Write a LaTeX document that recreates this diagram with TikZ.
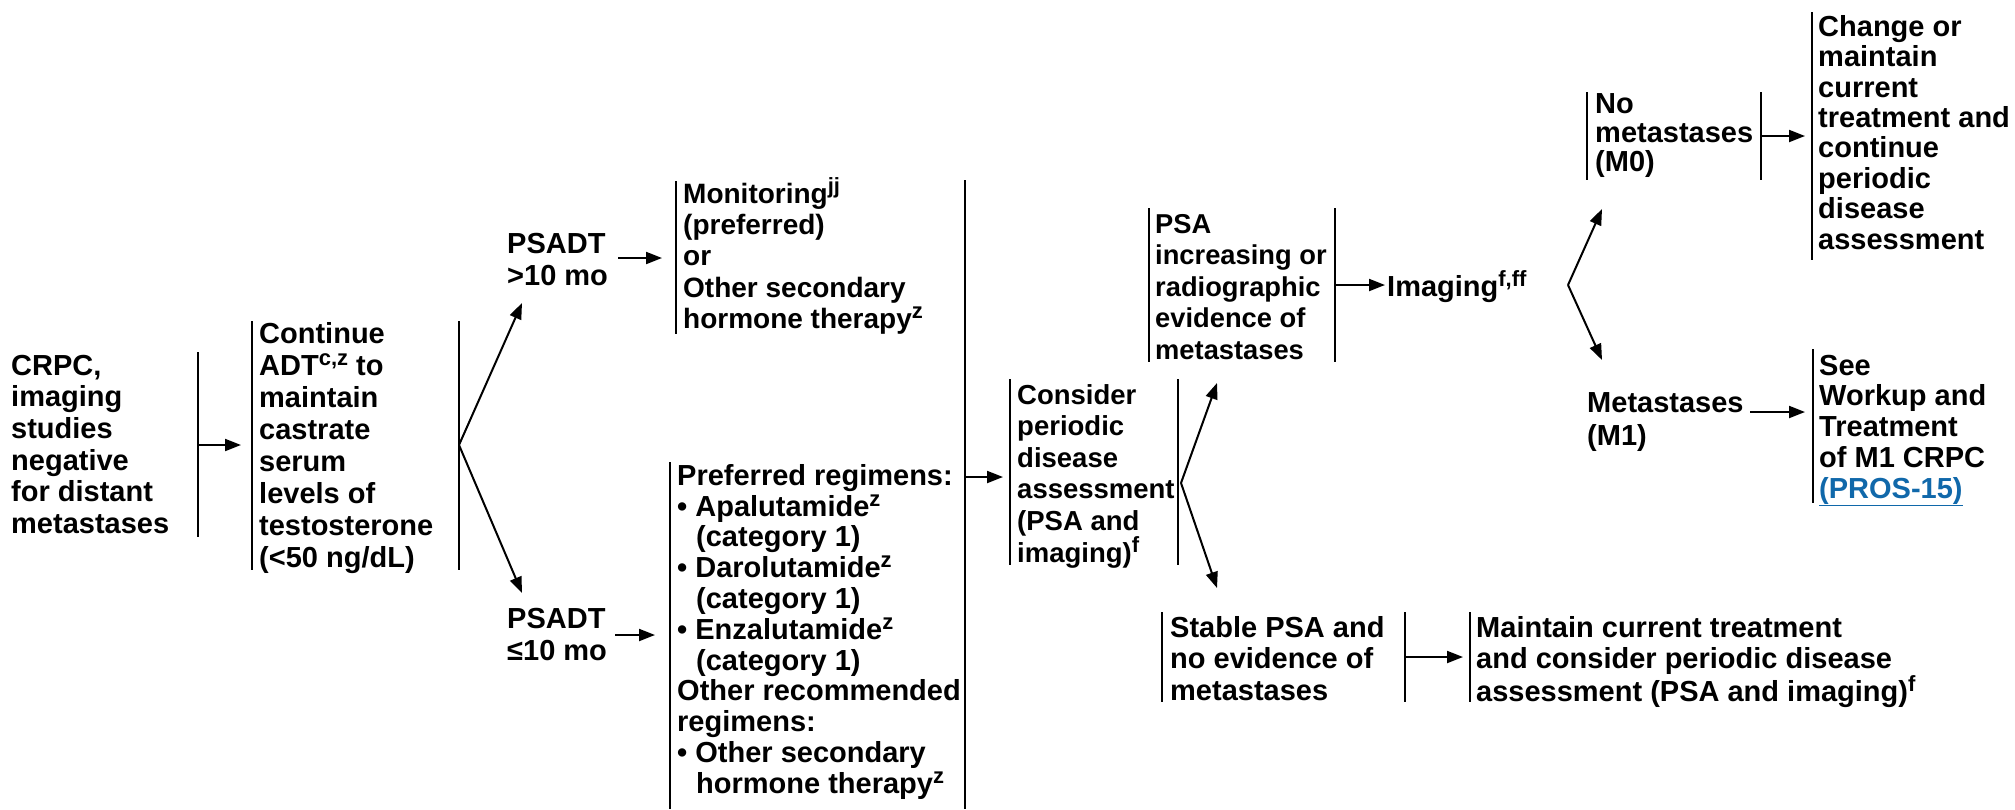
\documentclass[tikz,border=0pt]{standalone}
\usepackage{fontspec}
\setmainfont{Liberation Sans}
\usetikzlibrary{arrows.meta}
\definecolor{linkblue}{RGB}{16,104,170}
\newcommand{\hstr}{\rule{0pt}{26pt}}
\newcommand{\sps}[1]{\raisebox{10pt}{\fontsize{22}{22}\selectfont #1}}
\newcommand{\ind}{\hspace*{19pt}}
\begin{document}
\begin{tikzpicture}[x=1pt,y=-1pt,
  txt/.style={anchor=north west, inner sep=0pt, align=left, font=\fontsize{29}{31.5}\selectfont\bfseries},
  bar/.style={line width=2.6pt},
  arr/.style={line width=2pt, -{Triangle[length=16pt,width=12pt]}},
  fork/.style={line width=2pt, -{Triangle[length=16pt,width=12pt]}}]
\useasboundingbox (0,0) rectangle (2015,809);

% ---------- text nodes ----------
\node[txt, font=\fontsize{29}{31.6}\selectfont\bfseries] (crpc) at (11,349)
  {\hstr CRPC,\\ imaging\\ studies\\ negative\\ for distant\\ metastases};
\node[txt, font=\fontsize{29}{32}\selectfont\bfseries] (cont) at (259,317)
  {\hstr Continue\\ ADT\sps{c,z} to\\ maintain\\ castrate\\ serum\\ levels of\\ testosterone\\ (<50 ng/dL)};
\node[txt, font=\fontsize{29}{32}\selectfont\bfseries] (ps1) at (507,227) {\hstr PSADT\\ >10 mo};
\node[txt, font=\fontsize{29}{32}\selectfont\bfseries] (ps2) at (507,602) {\hstr PSADT\\ ≤10 mo};
\node[txt, font=\fontsize{28}{31.3}\selectfont\bfseries] (mon) at (683,177)
  {\hstr Monitoring\sps{jj}\\ (preferred)\\ or\\ Other secondary\\ hormone therapy\sps{z}};
\node[txt, font=\fontsize{29}{30.8}\selectfont\bfseries] (pref) at (677,459)
  {\hstr Preferred regimens:\\ • Apalutamide\sps{z}\\ \ind(category 1)\\ • Darolutamide\sps{z}\\ \ind(category 1)\\
   • Enzalutamide\sps{z}\\ \ind(category 1)\\ Other recommended\\ regimens:\\ • Other secondary\\ \ind hormone therapy\sps{z}};
\node[txt, font=\fontsize{27.5}{31.5}\selectfont\bfseries] (cons) at (1017,378)
  {\hstr Consider\\ periodic\\ disease\\ assessment\\ (PSA and\\ imaging)\sps{f}};
\node[txt, font=\fontsize{27.3}{31.5}\selectfont\bfseries] (psa) at (1155,207)
  {\hstr PSA\\ increasing or\\ radiographic\\ evidence of\\ metastases};
\node[txt] (img) at (1387,270) {\hstr Imaging\sps{f,ff}};
\node[txt, font=\fontsize{29}{29}\selectfont\bfseries] (nom) at (1595,87) {\hstr No\\ metastases\\ (M0)};
\node[txt, font=\fontsize{29}{30.4}\selectfont\bfseries] (chg) at (1818,10)
  {\hstr Change or\\ maintain\\ current\\ treatment and\\ continue\\ periodic\\ disease\\ assessment};
\node[txt, font=\fontsize{29}{33}\selectfont\bfseries] (met) at (1587,386) {\hstr Metastases\\ (M1)};
\node[txt, font=\fontsize{29}{30.75}\selectfont\bfseries] (see) at (1819,349)
  {\hstr See\\ Workup and\\ Treatment\\ of M1 CRPC\\ {\color{linkblue}\underline{(PROS-15)}}};
\node[txt, font=\fontsize{29}{31.7}\selectfont\bfseries] (stab) at (1170,611)
  {\hstr Stable PSA and\\ no evidence of\\ metastases};
\node[txt, font=\fontsize{29}{31.7}\selectfont\bfseries] (maint) at (1476,611)
  {\hstr Maintain current treatment\\ and consider periodic disease\\ assessment (PSA and imaging)\sps{f}};

% ---------- bracket bars ----------
\draw[bar] (198,352) -- (198,537);
\draw[bar] (252,321) -- (252,570);
\draw[bar] (459,321) -- (459,570);
\draw[bar] (676,181) -- (676,334);
\draw[bar] (670,462) -- (670,809);
\draw[bar] (965,180) -- (965,809);
\draw[bar] (1010,379) -- (1010,565);
\draw[bar] (1178,379) -- (1178,565);
\draw[bar] (1149,208) -- (1149,362);
\draw[bar] (1335,208) -- (1335,362);
\draw[bar] (1587,92) -- (1587,180);
\draw[bar] (1761,92) -- (1761,180);
\draw[bar] (1812,12) -- (1812,260);
\draw[bar] (1813,349) -- (1813,503);
\draw[bar] (1162,612) -- (1162,702);
\draw[bar] (1405,612) -- (1405,702);
\draw[bar] (1470,612) -- (1470,702);

% ---------- connector coordinates ----------
\coordinate (crpcR) at (198,445);   \coordinate (contIn) at (241,445);
\coordinate (contR) at (459,445);
\coordinate (ps1In) at (522,303);   \coordinate (ps2In) at (522,593);
\coordinate (ps1R) at (618,258);    \coordinate (monIn) at (662,258);
\coordinate (ps2R) at (615,635);    \coordinate (prefIn) at (655,635);
\coordinate (treatR) at (965,477);  \coordinate (consIn) at (1003,477);
\coordinate (consR) at (1181,483);
\coordinate (psaIn) at (1217,383);  \coordinate (stabIn) at (1217,588);
\coordinate (psaR) at (1335,285);   \coordinate (imgIn) at (1385,285);
\coordinate (imgR) at (1568,285);
\coordinate (nomIn) at (1602,209);  \coordinate (metIn) at (1602,360);
\coordinate (nomR) at (1761,136);   \coordinate (chgIn) at (1805,136);
\coordinate (metR) at (1750,412);   \coordinate (seeIn) at (1805,412);
\coordinate (stabR) at (1405,657);  \coordinate (maintIn) at (1463,657);

% ---------- connectors ----------
\draw[arr] (crpcR) -- (contIn);
\draw[fork] (contR) -- (ps1In);
\draw[fork] (contR) -- (ps2In);
\draw[arr] (ps1R) -- (monIn);
\draw[arr] (ps2R) -- (prefIn);
\draw[arr] (treatR) -- (consIn);
\draw[fork] (consR) -- (psaIn);
\draw[fork] (consR) -- (stabIn);
\draw[arr] (psaR) -- (imgIn);
\draw[fork] (imgR) -- (nomIn);
\draw[fork] (imgR) -- (metIn);
\draw[arr] (nomR) -- (chgIn);
\draw[arr] (metR) -- (seeIn);
\draw[arr] (stabR) -- (maintIn);
\end{tikzpicture}
\end{document}
